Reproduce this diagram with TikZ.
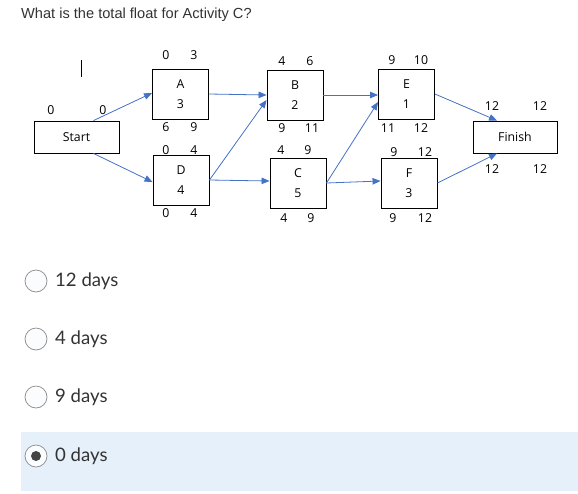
\documentclass[tikz,border=0pt]{standalone}
\usepackage{fontspec}
\setmainfont{Open Sans}
\newfontfamily\titlefont{Liberation Sans}
\newfontfamily\optfont{Lato}
\usetikzlibrary{arrows.meta}
\definecolor{arrowblue}{HTML}{4472C4}
\definecolor{titlegray}{HTML}{333333}
\definecolor{optgray}{HTML}{333333}
\definecolor{radiogray}{HTML}{8A8A8A}
\definecolor{radiofill}{HTML}{FBFCFE}
\definecolor{selbg}{HTML}{E6F0FA}
\definecolor{dotgray}{HTML}{444444}
\begin{document}
\begin{tikzpicture}[x=1pt,y=-1pt,
  act/.style={draw,line width=0.9pt,minimum width=56pt,minimum height=50pt,inner sep=0pt,align=center,font=\fontsize{12.3}{20}\selectfont},
  endbox/.style={draw,line width=0.9pt,minimum width=85pt,minimum height=32pt,inner sep=0pt,font=\fontsize{12.3}{14}\selectfont},
  lab/.style={font=\fontsize{12.3}{14}\selectfont,inner sep=0pt},
  flow/.style={draw=arrowblue,line width=0.8pt,-{Triangle[length=8pt,width=6.5pt]}},
  opt/.style={font=\optfont\fontsize{18.6}{21}\selectfont,text=optgray,anchor=west,inner sep=0pt},
  radio/.style={circle,draw=radiogray,fill=radiofill,minimum size=22pt,inner sep=0pt,line width=0.7pt}
]
\useasboundingbox (0,0) rectangle (578,493);

\node[anchor=west,inner sep=0pt,text=titlegray,font=\titlefont\fontsize{14.6}{16}\selectfont] (title) at (21,15) {What is the total float for Activity C?};

\draw[line width=1pt] (81,60) -- (81,77);

% boxes
\node[endbox] (Start) at (76.5,137) {Start};
\node[act] (A) at (180.5,94) {A\\3};
\node[act] (D) at (181,180) {D\\4};
\node[act] (B) at (295,95) {B\\2};
\node[act] (C) at (298,183) {C\\5};
\node[act] (E) at (406.5,94) {E\\1};
\node[act] (F) at (409,183) {F\\3};
\node[endbox,minimum width=84pt] (Finish) at (515,137) {Finish};

% labels
\node[lab] (s1) at (51,110) {0};
\node[lab] (s2) at (103,110) {0};
\node[lab] (a1) at (166,55) {0};
\node[lab] (a2) at (194,55) {3};
\node[lab] (a3) at (166,127) {6};
\node[lab] (a4) at (194,127) {9};
\node[lab] (d1) at (166,150) {0};
\node[lab] (d2) at (194,150) {4};
\node[lab] (d3) at (166,213) {0};
\node[lab] (d4) at (194,213) {4};
\node[lab] (b1) at (282,61) {4};
\node[lab] (b2) at (310,61) {6};
\node[lab] (b3) at (282,128) {9};
\node[lab] (b4) at (312,128) {11};
\node[lab] (c1) at (281,150) {4};
\node[lab] (c2) at (308,150) {9};
\node[lab] (c3) at (284,218) {4};
\node[lab] (c4) at (311,218) {9};
\node[lab] (e1) at (392,60) {9};
\node[lab] (e2) at (421,60) {10};
\node[lab] (e3) at (388,128) {11};
\node[lab] (e4) at (421,128) {12};
\node[lab] (f1) at (394,152) {9};
\node[lab] (f2) at (425,152) {12};
\node[lab] (f3) at (393,218) {9};
\node[lab] (f4) at (425,218) {12};
\node[lab] (n1) at (492,106) {12};
\node[lab] (n2) at (540,106) {12};
\node[lab] (n3) at (492,169) {12};
\node[lab] (n4) at (540,169) {12};

% connectors
\draw[flow] ([xshift=17pt]Start.north) -- ([yshift=1pt]A.west);
\draw[flow] ([xshift=17pt]Start.south) -- ([yshift=-2pt]D.west);
\draw[flow] (A.east) -- (B.west);
\draw[flow] (D.east) -- ([yshift=-5pt]B.west);
\draw[flow] (D.east) -- ([yshift=2pt]C.west);
\draw[flow] (B.east) -- ([yshift=-1pt]E.west);
\draw[flow] (C.east) -- ([yshift=-8pt]E.west);
\draw[flow] (C.east) -- ([yshift=2pt]F.west);
\draw[flow] (E.east) -- ([xshift=-18pt]Finish.north);
\draw[flow] (F.east) -- ([xshift=-18pt]Finish.south);

% answer options
\fill[selbg] (21,432) rectangle (578,491);
\node[radio] (r1) at (36,281) {};
\node[radio] (r2) at (36,339) {};
\node[radio] (r3) at (36,397) {};
\node[radio] (r4) at (36,456) {};
\fill[dotgray] (r4.center) circle (5pt);
\node[opt] (o1) at (55,281) {12 days};
\node[opt] (o2) at (55,339) {4 days};
\node[opt] (o3) at (55,397) {9 days};
\node[opt] (o4) at (55,456) {0 days};
\end{tikzpicture}
\end{document}
